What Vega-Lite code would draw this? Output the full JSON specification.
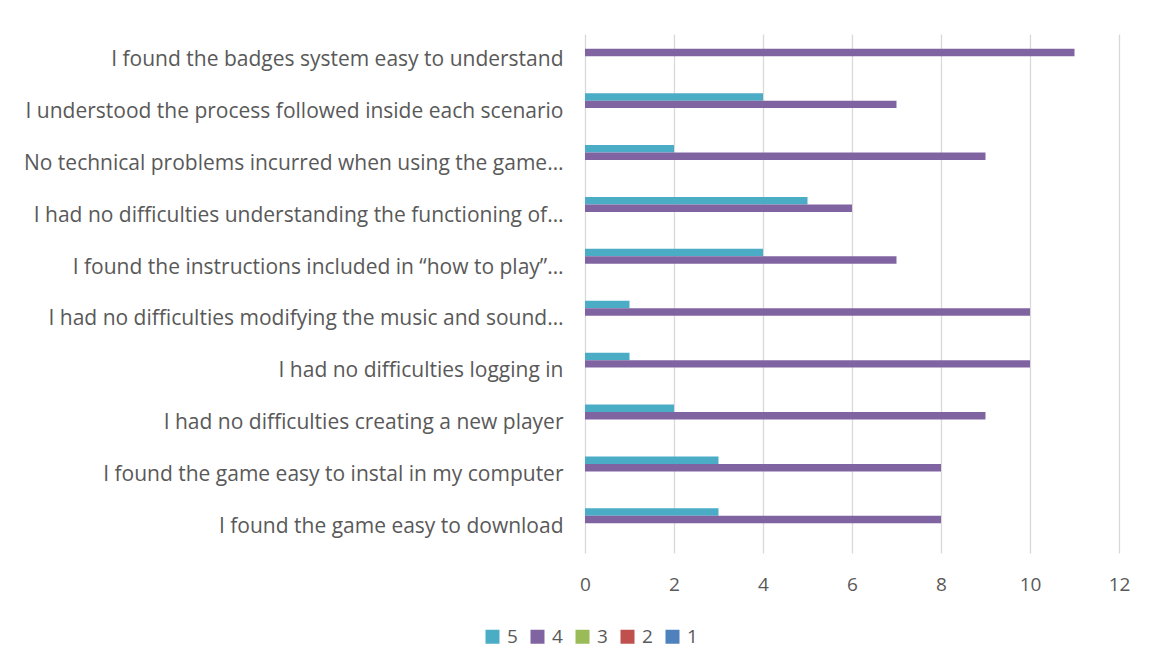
{
  "$schema": "https://vega.github.io/schema/vega-lite/v6.json",
  "width": 534,
  "height": 519,
  "autosize": {"type": "none"},
  "padding": {"left": 585, "top": 34, "right": 32, "bottom": 119},
  "background": "white",
  "config": {"view": {"stroke": null}, "font": "Open Sans"},
  "data": {"values": [
    {"q": "I found the badges system easy to understand", "rating": "5", "count": 0},
    {"q": "I found the badges system easy to understand", "rating": "4", "count": 11},
    {"q": "I understood the process followed inside each scenario", "rating": "5", "count": 4},
    {"q": "I understood the process followed inside each scenario", "rating": "4", "count": 7},
    {"q": "No technical problems incurred when using the game…", "rating": "5", "count": 2},
    {"q": "No technical problems incurred when using the game…", "rating": "4", "count": 9},
    {"q": "I had no difficulties understanding the functioning of…", "rating": "5", "count": 5},
    {"q": "I had no difficulties understanding the functioning of…", "rating": "4", "count": 6},
    {"q": "I found the instructions included in “how to play”…", "rating": "5", "count": 4},
    {"q": "I found the instructions included in “how to play”…", "rating": "4", "count": 7},
    {"q": "I had no difficulties modifying the music and sound…", "rating": "5", "count": 1},
    {"q": "I had no difficulties modifying the music and sound…", "rating": "4", "count": 10},
    {"q": "I had no difficulties logging in", "rating": "5", "count": 1},
    {"q": "I had no difficulties logging in", "rating": "4", "count": 10},
    {"q": "I had no difficulties creating a new player", "rating": "5", "count": 2},
    {"q": "I had no difficulties creating a new player", "rating": "4", "count": 9},
    {"q": "I found the game easy to instal in my computer", "rating": "5", "count": 3},
    {"q": "I found the game easy to instal in my computer", "rating": "4", "count": 8},
    {"q": "I found the game easy to download", "rating": "5", "count": 3},
    {"q": "I found the game easy to download", "rating": "4", "count": 8},
    {"q": "I found the game easy to download", "rating": "3", "count": 0},
    {"q": "I found the game easy to download", "rating": "2", "count": 0},
    {"q": "I found the game easy to download", "rating": "1", "count": 0}
  ]},
  "mark": {"type": "bar"},
  "encoding": {
    "y": {
      "field": "q", "type": "nominal", "sort": null,
      "scale": {"paddingInner": 0.28, "paddingOuter": 0.14},
      "axis": {"title": null, "ticks": false, "domain": false, "labelPadding": 22, "labelLimit": 700,
               "labelFontSize": 21, "labelColor": "#595959", "labelFont": "Open Sans"}
    },
    "yOffset": {"field": "rating", "type": "nominal", "sort": ["5", "4", "3", "2", "1"],
                "scale": {"paddingInner": 0, "paddingOuter": 0}},
    "x": {
      "field": "count", "type": "quantitative",
      "scale": {"domain": [0, 12]},
      "axis": {"title": null, "values": [0, 2, 4, 6, 8, 10, 12], "ticks": false, "domain": false,
               "grid": true, "gridColor": "#d9d9d9", "gridWidth": 1.3, "labelPadding": 22, "labelFlush": false,
               "labelFontSize": 19, "labelColor": "#595959", "labelFont": "Open Sans"}
    },
    "color": {
      "field": "rating", "type": "nominal",
      "scale": {"domain": ["5", "4", "3", "2", "1"], "range": ["#4BACC6", "#8064A2", "#9BBB59", "#C0504D", "#4F81BD"]},
      "legend": {"title": null, "orient": "none", "direction": "horizontal", "legendX": -102, "legendY": 593,
                 "symbolType": "square", "symbolSize": 196, "symbolStrokeWidth": 0, "symbolOpacity": 1,
                 "labelFontSize": 19, "labelColor": "#595959", "labelFont": "Open Sans",
                 "columnPadding": 10, "symbolOffset": 0, "labelOffset": 5}
    }
  }
}
